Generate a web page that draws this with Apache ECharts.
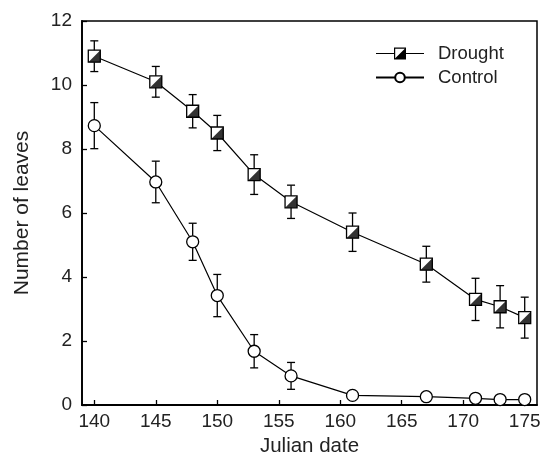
<!DOCTYPE html>
<html>
<head>
<meta charset="utf-8">
<script src="https://cdn.jsdelivr.net/npm/echarts@6/dist/echarts.min.js"></script>
<style>
html,body{margin:0;padding:0;background:#fff;}
#chart{width:553px;height:462px;}
</style>
</head>
<body>
<div id="chart"></div>
<script>
// ---- data ----
var days = [140, 145, 148, 150, 153, 156, 161, 167, 171, 173, 175];
var droughtMean = [10.9, 10.1, 9.18, 8.5, 7.2, 6.35, 5.4, 4.4, 3.3, 3.07, 2.73];
var droughtErr  = [0.48, 0.48, 0.52, 0.55, 0.62, 0.52, 0.6, 0.56, 0.66, 0.66, 0.64];
var controlMean = [8.73, 6.97, 5.1, 3.42, 1.68, 0.91, 0.3, 0.26, 0.21, 0.17, 0.17];
var controlErr  = [0.72, 0.65, 0.58, 0.66, 0.52, 0.42, 0.08, 0.06, 0.06, 0.05, 0.05];
var xTickLabels = [140, 145, 150, 155, 160, 165, 170, 175];
var seriesNames = ['Drought', 'Control'];

var FONT = 'Liberation Sans, Arial, Helvetica, sans-serif';
var TXT = '#222';

function pairs(xs, ys) { return xs.map(function (x, i) { return [x, ys[i]]; }); }
function errRows(xs, ys, es) { return xs.map(function (x, i) { return [x, ys[i] - es[i], ys[i] + es[i]]; }); }

function errorBarRender(params, api) {
  var x = api.value(0);
  var lo = api.coord([x, api.value(1)]);
  var hi = api.coord([x, api.value(2)]);
  var hw = 4;
  var st = { stroke: '#000', lineWidth: 1.3 };
  return {
    type: 'group',
    children: [
      { type: 'line', shape: { x1: lo[0], y1: lo[1], x2: hi[0], y2: hi[1] }, style: st },
      { type: 'line', shape: { x1: lo[0] - hw, y1: lo[1], x2: lo[0] + hw, y2: lo[1] }, style: st },
      { type: 'line', shape: { x1: hi[0] - hw, y1: hi[1], x2: hi[0] + hw, y2: hi[1] }, style: st }
    ]
  };
}

// legend icon for half-filled square on a line
var droughtIcon = 'path://M0,5.4 L18,5.4 L18,6.6 L0,6.6 Z ' +
  'M18,0 L30,0 L30,12 L18,12 Z M19.2,1.2 L19.2,10.8 L28.8,10.8 L28.8,1.2 Z ' +
  'M28.8,1.2 L28.8,10.8 L19.2,10.8 Z ' +
  'M30,5.4 L48,5.4 L48,6.6 L30,6.6 Z';

var chart = echarts.init(document.getElementById('chart'), null, { renderer: 'canvas' });
chart.setOption({
  animation: false,
  backgroundColor: '#fff',
  textStyle: { fontFamily: FONT },
  grid: {
    left: 82, right: 16, top: 21, bottom: 56,
    show: true, borderColor: '#000', borderWidth: 1.5, backgroundColor: 'transparent'
  },
  legend: {
    orient: 'vertical',
    left: 375, top: 44,
    padding: 0,
    itemWidth: 48, itemHeight: 12, itemGap: 5,
    textStyle: { fontFamily: FONT, fontSize: 18.5, color: TXT, padding: [0, 0, 0, 9] },
    data: [
      { name: seriesNames[0], icon: droughtIcon, itemStyle: { color: '#000', borderWidth: 0 } },
      { name: seriesNames[1] }
    ]
  },
  xAxis: {
    type: 'value', min: 139, max: 176,
    name: 'Julian date', nameLocation: 'middle', nameGap: 31,
    nameTextStyle: { fontFamily: FONT, fontSize: 20.5, color: TXT },
    axisLine: { show: true, lineStyle: { color: '#000', width: 1.8 } },
    axisTick: { show: true, inside: true, length: 5, lineStyle: { color: '#000', width: 1.3 }, customValues: xTickLabels },
    axisLabel: { fontFamily: FONT, fontSize: 19, color: TXT, margin: 7, customValues: xTickLabels },
    splitLine: { show: false }
  },
  yAxis: {
    type: 'value', min: 0, max: 12, interval: 2,
    name: 'Number of leaves', nameLocation: 'middle', nameGap: 49,
    nameTextStyle: { fontFamily: FONT, fontSize: 21, color: TXT },
    axisLine: { show: true, lineStyle: { color: '#000', width: 1.8 } },
    axisTick: { show: true, inside: true, length: 5, lineStyle: { color: '#000', width: 1.3 } },
    axisLabel: { fontFamily: FONT, fontSize: 19, color: TXT, margin: 10 },
    splitLine: { show: false }
  },
  series: [
    {
      name: seriesNames[0] + ' err', type: 'custom', z: 1, silent: true,
      renderItem: errorBarRender, data: errRows(days, droughtMean, droughtErr),
      encode: { x: 0, y: [1, 2] }
    },
    {
      name: seriesNames[1] + ' err', type: 'custom', z: 1, silent: true,
      renderItem: errorBarRender, data: errRows(days, controlMean, controlErr),
      encode: { x: 0, y: [1, 2] }
    },
    {
      name: seriesNames[0], type: 'line', z: 2,
      data: pairs(days, droughtMean),
      symbol: 'rect', symbolSize: 12,
      lineStyle: { color: '#000', width: 1.2 },
      itemStyle: { color: '#fff', borderColor: '#000', borderWidth: 1.3 }
    },
    {
      name: seriesNames[0] + ' fill', type: 'scatter', z: 3, silent: true,
      data: pairs(days, droughtMean),
      symbol: 'path://M10,0 L10,10 L0,10 Z', symbolSize: 12,
      itemStyle: { color: '#000' }
    },
    {
      name: seriesNames[1], type: 'line', z: 2,
      data: pairs(days, controlMean),
      symbol: 'circle', symbolSize: 12,
      lineStyle: { color: '#000', width: 1.2 },
      itemStyle: { color: '#fff', borderColor: '#000', borderWidth: 1.3 }
    }
  ]
});
</script>
</body>
</html>
